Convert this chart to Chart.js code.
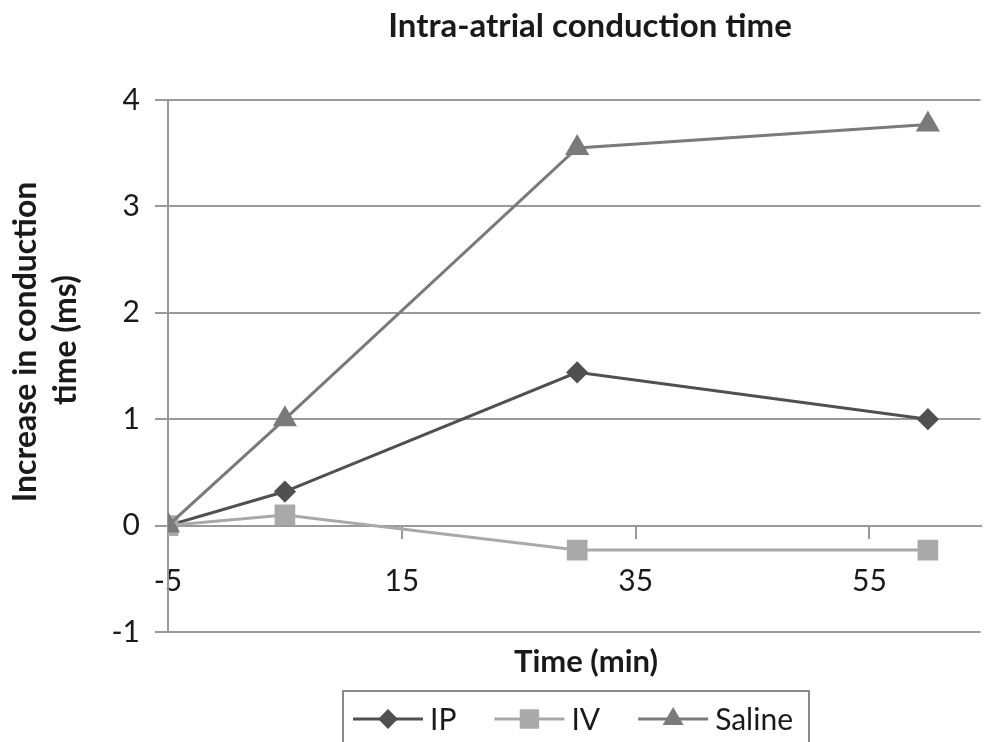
<!DOCTYPE html>
<html>
<head>
<meta charset="utf-8">
<script src="https://cdn.jsdelivr.net/npm/chart.js@4.4.1/dist/chart.umd.min.js"></script>
<style>
  html, body { margin: 0; padding: 0; background: #fff; }
  #wrap { width: 996px; height: 742px; }
</style>
</head>
<body>
<div id="wrap"><canvas id="myChart" width="996" height="742"></canvas></div>
<script>
const times = [-5, 5, 30, 60];
const ipValues = [0, 0.32, 1.44, 1.0];
const ivValues = [0, 0.1, -0.23, -0.23];
const salineValues = [0, 1.0, 3.55, 3.77];
const xTicks = [-5, 15, 35, 55];
const yTicks = [-1, 0, 1, 2, 3, 4];
const seriesNames = ['IP', 'IV', 'Saline'];

const FONT = 'Lato';
const gridGray = '#999999';
const textColor = '#1a1a1a';

function toPoints(vals) {
  return times.map((t, i) => ({ x: t, y: vals[i] }));
}

// gambar marker sendiri (dipakai di legend)
function drawMarker(ctx, style, x, y, r, color) {
  ctx.fillStyle = color;
  ctx.beginPath();
  if (style === 'rectRot') {
    ctx.moveTo(x - r, y); ctx.lineTo(x, y - r); ctx.lineTo(x + r, y); ctx.lineTo(x, y + r);
  } else if (style === 'rect') {
    const s = r * Math.SQRT1_2;
    ctx.rect(x - s, y - s, 2 * s, 2 * s);
  } else {
    const h = r * Math.sqrt(3) / 2;
    ctx.moveTo(x, y - r); ctx.lineTo(x + h, y + r / 2); ctx.lineTo(x - h, y + r / 2);
  }
  ctx.closePath();
  ctx.fill();
}

// legend model Excel: garis + marker + teks, di dalam kotak
const excelLegend = {
  id: 'excelLegend',
  afterDraw(chart) {
    const ctx = chart.ctx;
    const datasets = chart.data.datasets;
    ctx.save();
    ctx.font = '30px ' + FONT;
    const lineLen = 70, gap = 7, spacing = 38;
    let total = 0;
    const widths = seriesNames.map(n => ctx.measureText(n).width);
    widths.forEach((w, i) => { total += lineLen + gap + w + (i ? spacing : 0); });
    const cx = 573, cy = 719;
    let x = cx - total / 2;
    ctx.strokeStyle = '#8a8a8a';
    ctx.lineWidth = 2;
    ctx.strokeRect(x - 10, 691, total + 26, 70);
    seriesNames.forEach((name, i) => {
      const ds = datasets.find(d => d.label === name);
      ctx.strokeStyle = ds.borderColor;
      ctx.lineWidth = 3;
      ctx.beginPath();
      ctx.moveTo(x, cy); ctx.lineTo(x + lineLen, cy);
      ctx.stroke();
      drawMarker(ctx, ds.pointStyle, x + lineLen / 2, cy, ds.pointRadius * 1.1, ds.borderColor);
      ctx.fillStyle = textColor;
      ctx.textBaseline = 'middle';
      ctx.textAlign = 'left';
      ctx.fillText(name, x + lineLen + gap, cy + 1);
      x += lineLen + gap + widths[i] + spacing;
    });
    ctx.restore();
  }
};

// judul chart dan judul sumbu (sumbu x diletakkan di y = 0, judul y dua baris)
const titles = {
  id: 'titles',
  afterDraw(chart) {
    const ctx = chart.ctx;
    ctx.save();
    ctx.fillStyle = textColor;
    ctx.textAlign = 'center';
    ctx.textBaseline = 'middle';
    ctx.font = 'bold 33px ' + FONT;
    ctx.fillText('Intra-atrial conduction time', 590, 26);
    ctx.font = 'bold 31px ' + FONT;
    ctx.fillText('Time (min)', 586, 662);
    ctx.font = 'bold 32px ' + FONT;
    ctx.translate(0, 342);
    ctx.rotate(-Math.PI / 2);
    ctx.fillText('Increase in conduction', 0, 26);
    ctx.fillText('time (ms)', 2, 66);
    ctx.restore();
  }
};

const ctx = document.getElementById('myChart');
new Chart(ctx, {
  type: 'line',
  data: {
    datasets: [
      {
        label: 'IP',
        data: toPoints(ipValues),
        borderColor: '#505050',
        backgroundColor: '#505050',
        pointStyle: 'rectRot',
        pointRadius: 9,
        borderWidth: 3,
        order: 2
      },
      {
        label: 'IV',
        data: toPoints(ivValues),
        borderColor: '#a9a9a9',
        backgroundColor: '#a9a9a9',
        pointStyle: 'rect',
        pointRadius: 12.5,
        borderWidth: 3,
        order: 1
      },
      {
        label: 'Saline',
        data: toPoints(salineValues),
        borderColor: '#7a7a7a',
        backgroundColor: '#7a7a7a',
        pointStyle: 'triangle',
        pointRadius: 11,
        borderWidth: 3,
        order: 0
      }
    ]
  },
  options: {
    responsive: false,
    animation: false,
    layout: { padding: { left: 0, right: 0, top: 100, bottom: 110 } },
    plugins: {
      legend: { display: false },
      tooltip: { enabled: false },
      title: { display: false }
    },
    elements: { line: { tension: 0 }, point: { borderWidth: 0 } },
    scales: {
      x: {
        type: 'linear',
        min: -5,
        max: 64.5,
        position: { y: 0 },
        afterBuildTicks: (scale) => { scale.ticks = xTicks.map(v => ({ value: v })); },
        grid: { display: true, drawOnChartArea: false, drawTicks: true, tickLength: 12, color: gridGray, lineWidth: 2 },
        border: { display: true, color: gridGray, width: 2 },
        ticks: { color: textColor, font: { family: FONT, size: 30 }, padding: 26, maxRotation: 0 }
      },
      y: {
        type: 'linear',
        min: -1,
        max: 4,
        afterBuildTicks: (scale) => { scale.ticks = yTicks.map(v => ({ value: v })); },
        afterFit: (scale) => { scale.width = 168; },
        grid: { display: true, drawTicks: true, tickLength: 13, color: gridGray, lineWidth: 2 },
        border: { display: true, color: gridGray, width: 2 },
        ticks: { color: textColor, font: { family: FONT, size: 30 }, padding: 15 }
      }
    }
  },
  plugins: [excelLegend, titles]
});
</script>
</body>
</html>
